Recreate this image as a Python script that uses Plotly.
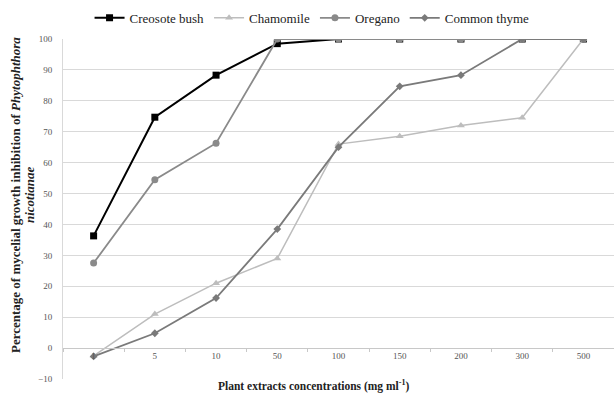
import plotly.graph_objects as go

categories = ["1", "5", "10", "50", "100", "150", "200", "300", "500"]
creosote = [36.3, 74.7, 88.3, 98.5, 100, 100, 100, 100, 100]
chamomile = [-2.5, 11.0, 21.0, 29.0, 66.0, 68.5, 72.0, 74.5, 100]
oregano = [27.5, 54.5, 66.3, 100, 100, 100, 100, 100, 100]
thyme = [-2.7, 4.8, 16.2, 38.5, 65.0, 84.7, 88.3, 100, 100]

y_ticks = [-10, 0, 10, 20, 30, 40, 50, 60, 70, 80, 90, 100]

SERIF = "Liberation Serif, Times New Roman, serif"

fig = go.Figure()
fig.add_trace(go.Scatter(x=categories, y=creosote, name="Creosote bush", mode="lines+markers",
                         line=dict(color="#000000", width=2),
                         marker=dict(symbol="square", size=7, color="#000000")))
fig.add_trace(go.Scatter(x=categories, y=chamomile, name="Chamomile", mode="lines+markers",
                         line=dict(color="#bdbdbd", width=1.5),
                         marker=dict(symbol="triangle-up", size=7, color="#bdbdbd")))
fig.add_trace(go.Scatter(x=categories, y=oregano, name="Oregano", mode="lines+markers",
                         line=dict(color="#8a8a8a", width=1.8),
                         marker=dict(symbol="circle", size=7, color="#8a8a8a")))
fig.add_trace(go.Scatter(x=categories, y=thyme, name="Common thyme", mode="lines+markers",
                         line=dict(color="#7a7a7a", width=1.8),
                         marker=dict(symbol="diamond", size=6, color="#7a7a7a")))

fig.update_layout(
    width=614, height=393,
    margin=dict(l=63, r=0, t=39, b=14),
    paper_bgcolor="white", plot_bgcolor="white",
    font=dict(family=SERIF, color="#333333"),
    showlegend=True,
    legend=dict(orientation="h", x=0.452, xanchor="center", y=1.062, yanchor="middle",
                font=dict(family=SERIF, size=13, color="#222222"),
                itemwidth=30, tracegroupgap=0, bgcolor="rgba(0,0,0,0)"),
    xaxis=dict(type="category", range=[-0.5, 8.5], anchor="free", position=10 / 110,
               showline=True, linecolor="#c8c8c8", linewidth=1,
               ticks="outside", tickson="boundaries", ticklen=3, tickcolor="#c8c8c8",
               ticklabelstandoff=-1,
               showgrid=False, tickfont=dict(family=SERIF, size=9, color="#555555")),
    yaxis=dict(range=[-10, 100], tickvals=y_ticks, showgrid=True, gridcolor="#d9d9d9",
               gridwidth=1, zeroline=False, showline=True, linecolor="#d9d9d9",
               ticks="", ticklabelstandoff=8,
               tickfont=dict(family=SERIF, size=9, color="#555555")),
)

fig.add_annotation(text="<b>Plant extracts concentrations (mg ml<sup>-1</sup>)</b>",
                   xref="paper", yref="paper", x=0.455, y=-0.02, xanchor="center", yanchor="middle",
                   showarrow=False, font=dict(family=SERIF, size=11.5, color="#222222"))
fig.add_annotation(text="<b>Percentage of mycelial growth inhibition of <i>Phytophthora</i></b>",
                   xref="paper", yref="paper", x=(15 - 63) / 551, y=0.541,
                   xanchor="center", yanchor="middle", textangle=-90, showarrow=False,
                   font=dict(family=SERIF, size=13, color="#222222"))
fig.add_annotation(text="<b><i>nicotianae</i></b>",
                   xref="paper", yref="paper", x=(29 - 63) / 551, y=0.541,
                   xanchor="center", yanchor="middle", textangle=-90, showarrow=False,
                   font=dict(family=SERIF, size=13, color="#222222"))

fig.write_html("out.html")
